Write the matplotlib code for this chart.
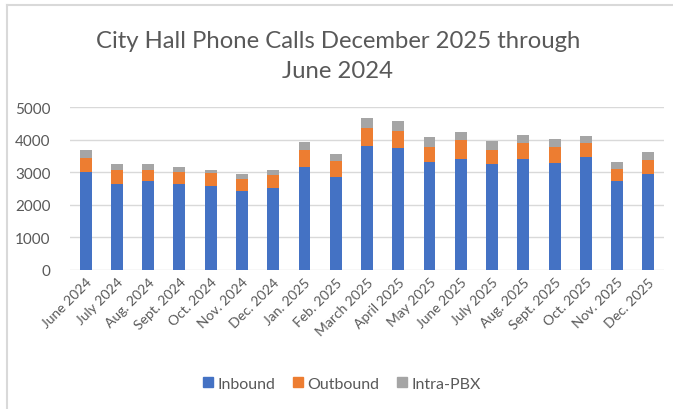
import matplotlib
matplotlib.use("Agg")
import matplotlib.pyplot as plt
from matplotlib.patches import Rectangle
from matplotlib.lines import Line2D
import numpy as np

months = ["June 2024", "July 2024", "Aug. 2024", "Sept. 2024", "Oct. 2024",
          "Nov. 2024", "Dec. 2024", "Jan. 2025", "Feb. 2025", "March 2025",
          "April 2025", "May 2025", "June 2025", "July 2025", "Aug. 2025",
          "Sept. 2025", "Oct. 2025", "Nov. 2025", "Dec. 2025"]
inbound = [3000, 2630, 2750, 2630, 2580, 2440, 2520, 3160, 2860, 3800,
           3740, 3330, 3410, 3250, 3410, 3300, 3460, 2750, 2960]
outbound = [440, 430, 330, 390, 390, 370, 400, 540, 490, 560,
            540, 450, 570, 450, 500, 490, 430, 340, 430]
intra_pbx = [250, 190, 170, 140, 110, 130, 160, 240, 210, 300,
             290, 320, 260, 270, 250, 230, 240, 220, 240]
series_names = ["Inbound", "Outbound", "Intra-PBX"]
colors = ["#4472C4", "#ED7D31", "#A5A5A5"]
yticks = [0, 1000, 2000, 3000, 4000, 5000]

plt.rcParams['font.family'] = ['Lato', 'DejaVu Sans']
txt = "#595959"

fig = plt.figure(figsize=(6.73, 4.10), dpi=100)
W, H = 673, 410
ax = fig.add_axes([70 / W, 1 - 271 / H, (664 - 70) / W, (271 - 108.3) / H])

x = np.arange(len(months))
bw = 0.38
inb = np.array(inbound)
outb = np.array(outbound)
pbx = np.array(intra_pbx)
ax.bar(x, inb, bw, color=colors[0], label=series_names[0], zorder=3)
ax.bar(x, outb, bw, bottom=inb, color=colors[1], label=series_names[1], zorder=3)
ax.bar(x, pbx, bw, bottom=inb + outb, color=colors[2], label=series_names[2], zorder=3)

ax.set_xlim(-0.5, len(months) - 0.5)
ax.set_ylim(0, 5000)
ax.set_yticks(yticks)
ax.set_yticklabels([str(v) for v in yticks], fontsize=11, color=txt)
ax.set_xticks(x)
ax.set_xticklabels(months, rotation=45, ha='right', rotation_mode='anchor',
                   fontsize=10, color=txt)
ax.tick_params(axis='both', length=0)
ax.tick_params(axis='y', pad=14)
ax.tick_params(axis='x', pad=4)
ax.yaxis.grid(True, color="#D9D9D9", linewidth=1.0, zorder=0)
for s in ax.spines.values():
    s.set_visible(False)

fig.text(338 / W, 1 - 41 / H, "City Hall Phone Calls December 2025 through",
         ha='center', va='center', fontsize=17.2, color=txt)
fig.text(338 / W, 1 - 72 / H, "June 2024",
         ha='center', va='center', fontsize=17.2, color=txt)

handles = [Rectangle((0, 0), 1, 1, color=c) for c in colors]
fig.legend(handles, series_names, loc='center', bbox_to_anchor=(342 / W, 1 - 385 / H),
           ncol=3, frameon=False, fontsize=11.5, handlelength=0.6, handleheight=0.6,
           handletextpad=0.3, columnspacing=1.1, labelcolor=txt)

# light border (top and left)
fig.add_artist(Line2D([6.5 / W, 6.5 / W], [0, 1 - 5.5 / H], transform=fig.transFigure,
                      color="#D9D9D9", linewidth=1.5))
fig.add_artist(Line2D([6.5 / W, 1], [1 - 5.5 / H, 1 - 5.5 / H], transform=fig.transFigure,
                      color="#D9D9D9", linewidth=1.5))

fig.savefig("out.png", dpi=100)
